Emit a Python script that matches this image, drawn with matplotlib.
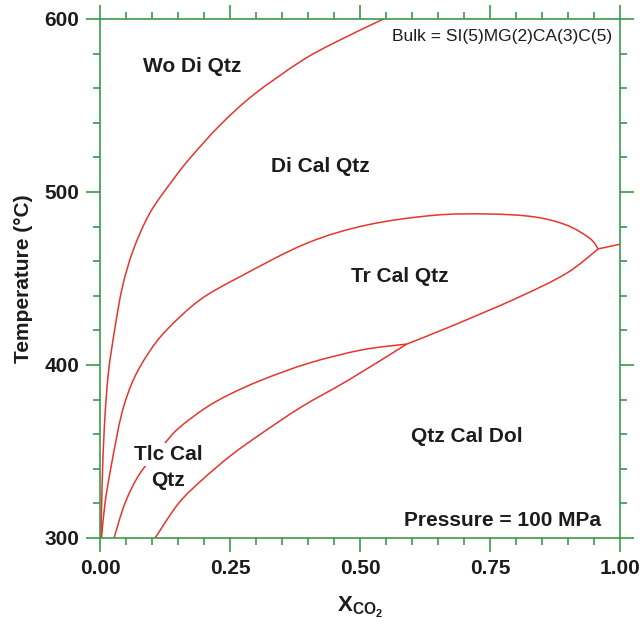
import matplotlib
matplotlib.use("Agg")
import matplotlib.pyplot as plt
import numpy as np
from matplotlib.ticker import MultipleLocator, FormatStrFormatter
from matplotlib.path import Path
from matplotlib.patches import PathPatch

plt.rcParams['font.family'] = ['Liberation Sans', 'DejaVu Sans']
plt.rcParams['mathtext.fontset'] = 'custom'
plt.rcParams['mathtext.rm'] = 'Liberation Sans:bold'
plt.rcParams['mathtext.bf'] = 'Liberation Sans:bold'
plt.rcParams['mathtext.it'] = 'Liberation Sans:bold'

# Wo Di Qtz / Di Cal Qtz boundary
c1_x = [0.002, 0.004, 0.0085, 0.016, 0.028, 0.043, 0.064, 0.096, 0.140, 0.173, 0.231, 0.295, 0.385, 0.449, 0.545]
c1_t = [300, 330, 365, 395, 420, 445, 466.5, 487.9, 506.9, 519.5, 538.7, 556.1, 575.3, 586, 600]

# Di Cal Qtz / Tr Cal Qtz boundary
c2_x = [0.003, 0.0096, 0.0225, 0.042, 0.064, 0.093, 0.128, 0.192, 0.269, 0.397, 0.513, 0.641, 0.744, 0.833, 0.897, 0.942, 0.958]
c2_t = [300, 320, 343.2, 372.1, 391.3, 406.8, 420.2, 437.6, 451.0, 470.3, 480.9, 486.5, 487.3, 485.7, 480.9, 473.2, 467.1]

# Tlc Cal Qtz / Tr Cal Qtz boundary
c3_x = [0.027, 0.048, 0.077, 0.122, 0.151, 0.202, 0.247, 0.311, 0.401, 0.503, 0.590]
c3_t = [300, 320.0, 337.4, 353.8, 363.4, 375.0, 382.7, 391.3, 401.0, 408.7, 412.1]

# Tlc Cal Qtz / Qtz Cal Dol boundary
c4_x = [0.106, 0.151, 0.196, 0.253, 0.311, 0.388, 0.478, 0.590]
c4_t = [300, 320.0, 333.5, 348.0, 360.5, 375.9, 391.3, 412.1]

# Tr Cal Qtz / Qtz Cal Dol boundary
c5_x = [0.590, 0.673, 0.801, 0.897, 0.958]
c5_t = [412.1, 422.1, 438.6, 453.0, 467.1]

# invariant point to right edge
c6_x = [0.958, 1.0]
c6_t = [467.1, 469.8]

labels = ["Wo Di Qtz", "Di Cal Qtz", "Tr Cal Qtz", "Qtz Cal Dol", "Tlc Cal", "Qtz", "Pressure = 100 MPa"]
label_x = [0.177, 0.423, 0.577, 0.706, 0.131, 0.131, 0.775]
label_t = [572.8, 514.5, 451.4, 358.4, 348.5, 333.0, 310.4]

green = '#3b9a4b'
red = '#e8342c'
txt = '#1c1c1c'

fig = plt.figure(figsize=(6.4, 6.28), dpi=100)
ax = fig.add_axes([100/640, 1-538/628, 520/640, 519/628])
ax.set_xlim(0, 1)
ax.set_ylim(300, 600)


def smooth_path(xs, ts):
    """Smooth (Catmull-Rom style) Bezier path through the given points."""
    P = np.column_stack([xs, ts]).astype(float)
    n = len(P)
    verts = [P[0]]
    codes = [Path.MOVETO]
    if n == 2:
        verts.append(P[1])
        codes.append(Path.LINETO)
        return Path(verts, codes)
    for i in range(n - 1):
        p0 = P[i - 1] if i > 0 else P[i]
        p1 = P[i]
        p2 = P[i + 1]
        p3 = P[i + 2] if i + 2 < n else P[i + 1]
        c1 = p1 + (p2 - p0) / 6.0
        c2 = p2 - (p3 - p1) / 6.0
        verts += [c1, c2, p2]
        codes += [Path.CURVE4, Path.CURVE4, Path.CURVE4]
    return Path(verts, codes)


for xs, ts in [(c1_x, c1_t), (c2_x, c2_t), (c3_x, c3_t), (c4_x, c4_t),
               (c5_x, c5_t), (c6_x, c6_t)]:
    ax.add_patch(PathPatch(smooth_path(xs, ts), fill=False, edgecolor=red,
                           lw=1.1, zorder=2, transform=ax.transData))

for lab, lx, lt in zip(labels, label_x, label_t):
    kw = {}
    if lab == "Tlc Cal":
        kw['bbox'] = dict(facecolor='white', edgecolor='none', pad=1.5)
    ax.text(lx, lt, lab, ha='center', va='center', fontsize=15, fontweight='bold',
            color=txt, zorder=3, **kw)

ax.text(0.985, 589.6, "Bulk = SI(5)MG(2)CA(3)C(5)", ha='right', va='center',
        fontsize=12.5, color=txt, zorder=3)

for s in ax.spines.values():
    s.set_color(green)
    s.set_linewidth(1.2)

ax.xaxis.set_major_locator(MultipleLocator(0.25))
ax.xaxis.set_minor_locator(MultipleLocator(0.05))
ax.xaxis.set_major_formatter(FormatStrFormatter('%.2f'))
ax.yaxis.set_major_locator(MultipleLocator(100))
ax.yaxis.set_minor_locator(MultipleLocator(20))
ax.tick_params(which='both', direction='out', color=green, width=1.2,
               top=True, right=True, labeltop=False, labelright=False)
ax.tick_params(which='major', length=10, pad=5, labelsize=15, labelcolor=txt)
ax.tick_params(which='minor', length=5)
for lbl in ax.get_xticklabels() + ax.get_yticklabels():
    lbl.set_fontweight('bold')

ax.set_ylabel("Temperature (°C)", fontsize=15, fontweight='bold', color=txt, labelpad=8)
ax.set_xlabel(r"$\mathrm{X_{CO_2}}$", fontsize=16, color=txt, labelpad=12)

fig.savefig("out.png", dpi=100)
